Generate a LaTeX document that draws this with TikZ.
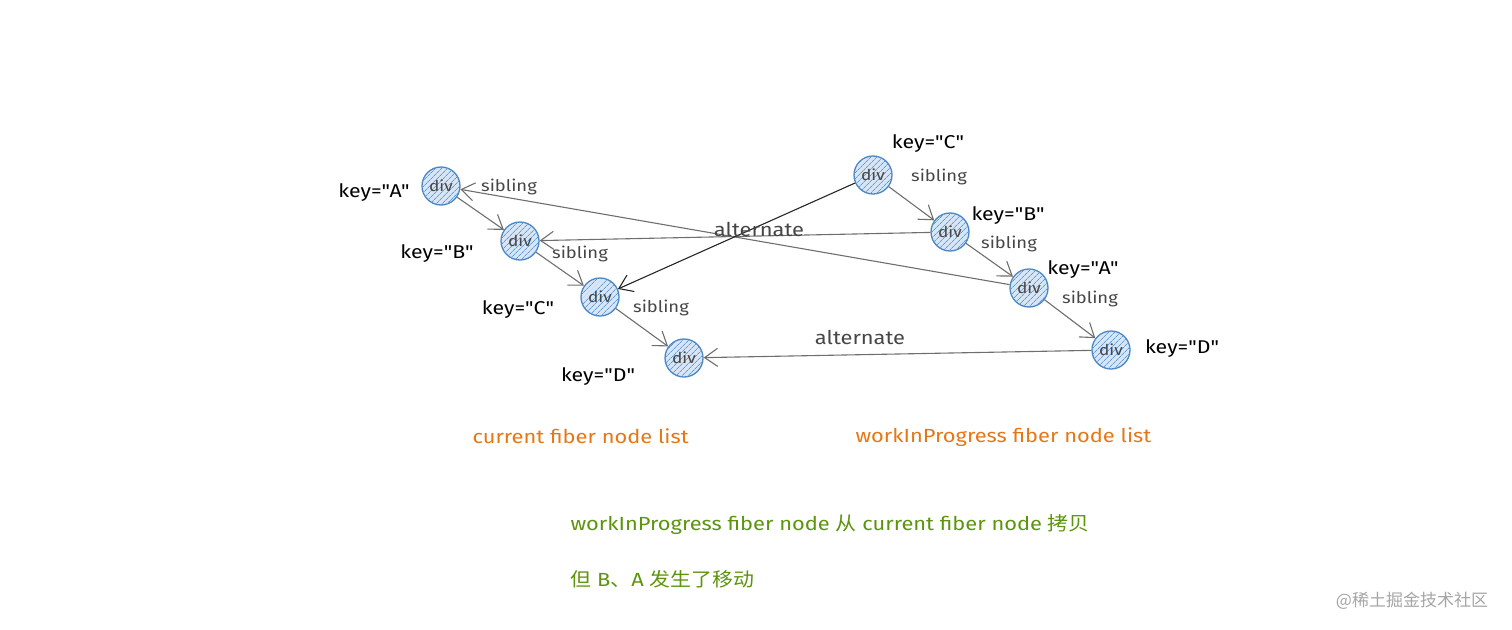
\documentclass[tikz,border=0pt]{standalone}
\usepackage{fontspec}
\setmainfont{Fira Sans}[FakeStretch=1.15,Ligatures=TeXOff]
\newfontfamily\cjk{Noto Sans CJK SC}[FakeStretch=1.1]
\newfontfamily\wmfont{Noto Sans CJK SC}
\usetikzlibrary{arrows.meta,patterns.meta}
\definecolor{nodeblue}{RGB}{74,134,197}
\definecolor{nodefill}{RGB}{214,230,247}
\definecolor{hatch}{RGB}{100,152,210}
\definecolor{linegray}{RGB}{110,110,110}
\definecolor{labelgray}{RGB}{70,70,70}
\definecolor{orangetxt}{RGB}{230,119,20}
\definecolor{greentxt}{RGB}{92,148,13}
\definecolor{wmgray}{RGB}{165,165,165}
\newcommand\qq{\char34\relax}
\tikzset{
  fiber/.style={circle, draw=nodeblue, line width=1.3pt, minimum size=38pt, inner sep=0pt,
    fill=nodefill, postaction={pattern={Lines[angle=45,distance=4pt,line width=0.8pt]}, pattern color=hatch},
    text=labelgray, font=\fontsize{15}{15}\selectfont},
  link/.style={draw=linegray, line width=1.1pt, -{Straight Barb[length=13pt,width=18pt,line width=1.1pt]}},
  darklink/.style={link, draw=black!85},
  keylbl/.style={font=\fontsize{18.5}{18.5}\selectfont, text=black},
  edgelbl/.style={font=\fontsize{16}{16}\selectfont, text=labelgray},
  altlbl/.style={font=\fontsize{19}{19}\selectfont, text=labelgray},
  caption/.style={font=\fontsize{19}{19}\selectfont, anchor=west},
}
\begin{document}
\begin{tikzpicture}[x=1pt,y=-1pt]
\useasboundingbox (0,0) rectangle (1512,629);
% current list
\node[fiber] (cA) at (441,186) {div};
\node[fiber] (cB) at (520,241) {div};
\node[fiber] (cC) at (600,297) {div};
\node[fiber] (cD) at (684,358) {div};
% workInProgress list
\node[fiber] (wC) at (873,175) {div};
\node[fiber] (wB) at (950,232) {div};
\node[fiber] (wA) at (1029,288) {div};
\node[fiber] (wD) at (1111,350) {div};
% keys
\node[keylbl] (kcA) at (374,193) {key=\qq A\qq};
\node[keylbl] (kcB) at (437,254) {key=\qq B\qq};
\node[keylbl] (kcC) at (518,310) {key=\qq C\qq};
\node[keylbl] (kcD) at (598,377) {key=\qq D\qq};
\node[keylbl] (kwC) at (928,144) {key=\qq C\qq};
\node[keylbl] (kwB) at (1008,216) {key=\qq B\qq};
\node[keylbl] (kwA) at (1083,270) {key=\qq A\qq};
\node[keylbl] (kwD) at (1182,349) {key=\qq D\qq};
% sibling arrows
\draw[link] (cA) -- (cB);
\draw[link] (cB) -- (cC);
\draw[link] (cC) -- (cD);
\draw[link] (wC) -- (wB);
\draw[link] (wB) -- (wA);
\draw[link] (wA) -- (wD);
\node[edgelbl] (s1) at (509,187) {sibling};
\node[edgelbl] (s2) at (580,254) {sibling};
\node[edgelbl] (s3) at (661,308) {sibling};
\node[edgelbl] (s4) at (939,177) {sibling};
\node[edgelbl] (s5) at (1009,244) {sibling};
\node[edgelbl] (s6) at (1090,299) {sibling};
% alternate arrows
\draw[link] (wB) -- (cB);
\draw[link] (wA) -- (cA);
\draw[darklink] (wC) -- (cC);
\draw[link] (wD) -- (cD);
\node[altlbl] (al1) at (759,229) {alternate};
\node[altlbl] (al2) at (860,337) {alternate};
% captions
\node[caption, text=orangetxt] (cap1) at (469,436) {current fiber node list};
\node[caption, text=orangetxt] (cap2) at (852,437) {workInProgress fiber node list};
\node[caption, text=greentxt] (g1) at (567,525) {workInProgress fiber node {\cjk 从} current fiber node {\cjk 拷贝}};
\node[caption, text=greentxt] (g2) at (567,579) {{\cjk 但} B{\cjk 、}A {\cjk 发生了移动}};
\node[font=\wmfont\fontsize{17}{17}\selectfont, text=wmgray] (wm) at (1412,601) {@稀土掘金技术社区};
\end{tikzpicture}
\end{document}
